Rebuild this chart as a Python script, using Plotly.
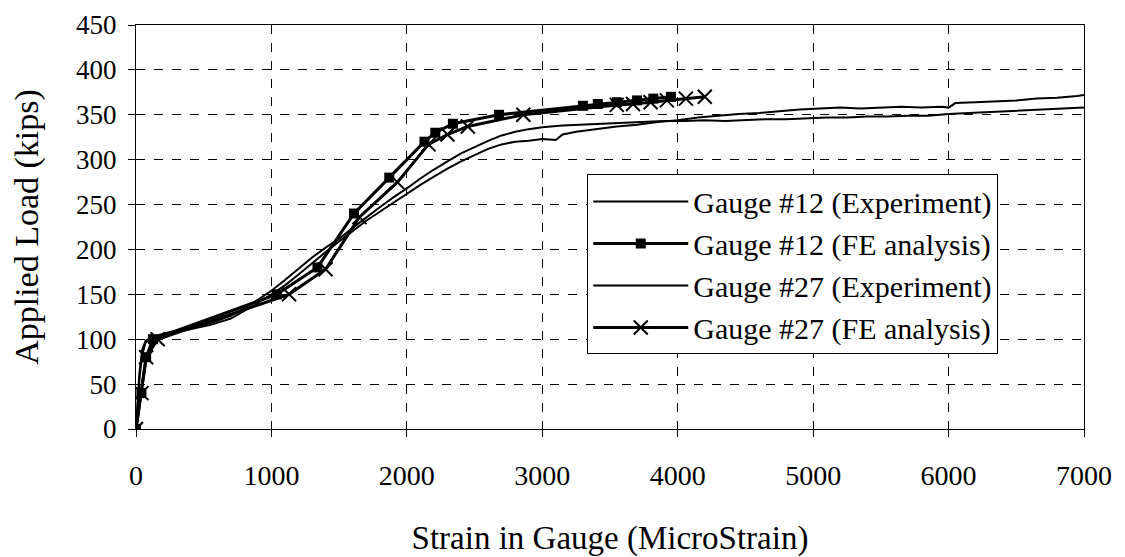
import plotly.graph_objects as go

# Gauge #12 experiment (thin wavy line)
exp12_x = [0, 10, 25, 45, 70, 100, 150, 250, 400, 550, 700, 850, 1000, 1100, 1200, 1300, 1400, 1500,
           1600, 1700, 1800, 1900, 2000, 2100, 2200, 2300, 2400, 2500, 2600, 2700, 2800, 2900, 3000,
           3100, 3150, 3250, 3400, 3550, 3700, 3850, 4000, 4150, 4300, 4450, 4600, 4750, 4900, 5050,
           5200, 5350, 5500, 5650, 5800, 5950, 6000, 6050, 6200, 6350, 6500, 6650, 6800, 6950, 7000]
exp12_y = [0, 25, 55, 82, 96, 100, 103, 106, 111, 116, 123, 136, 150, 160, 172, 185, 197, 209,
           221, 232, 242, 252, 262, 272, 281, 290, 298, 305, 312, 317, 320, 321, 323,
           322, 328, 331, 334, 337, 339, 342, 344, 347, 349, 351, 352, 354, 356, 357,
           358, 357, 358, 359, 358, 359, 358, 363, 364, 365, 366, 368, 369, 371, 372]

# Gauge #27 experiment (thin wavy line)
exp27_x = [0, 10, 25, 45, 70, 100, 150, 250, 400, 550, 700, 850, 1000, 1100, 1200, 1300, 1400, 1500,
           1600, 1700, 1800, 1900, 2000, 2100, 2200, 2300, 2400, 2500, 2600, 2700, 2800, 2900, 3000,
           3150, 3300, 3450, 3600, 3750, 3900, 4050, 4200, 4350, 4500, 4650, 4800, 4950, 5100, 5250,
           5400, 5550, 5700, 5850, 6000, 6150, 6300, 6450, 6600, 6750, 6900, 7000]
exp27_y = [0, 30, 62, 88, 98, 101, 104, 108, 112, 118, 126, 139, 154, 166, 179, 191, 202, 212,
           224, 236, 247, 258, 268, 279, 289, 298, 307, 314, 321, 327, 331, 334, 336,
           338, 339, 340, 341, 342, 343, 343, 344, 343, 344, 345, 345, 346, 347, 347,
           348, 348, 349, 349, 351, 352, 353, 354, 355, 356, 357, 358]

# FE analysis results
fe12_x = [0, 40, 75, 125, 1040, 1340, 1610, 1870, 2130, 2210, 2340, 2680, 3300, 3410, 3550, 3700, 3820, 3950]
fe12_y = [0, 40, 80, 100, 150, 180, 240, 280, 320, 330, 340, 350, 360, 362, 364, 366, 368, 370]

fe27_x = [0, 40, 75, 160, 1130, 1400, 1650, 1930, 2160, 2300, 2450, 2860, 3550, 3670, 3800, 3920, 4060, 4200]
fe27_y = [0, 40, 80, 100, 150, 178, 236, 275, 317, 328, 337, 350, 361, 362, 364, 366, 368, 370]

fnt = "Liberation Serif, Times New Roman, serif"

fig = go.Figure()
fig.add_trace(go.Scatter(x=exp12_x, y=exp12_y, mode="lines", name="Gauge #12 (Experiment)",
                         line=dict(color="black", width=2)))
fig.add_trace(go.Scatter(x=fe12_x, y=fe12_y, mode="lines+markers", name="Gauge #12 (FE analysis)",
                         line=dict(color="black", width=3),
                         marker=dict(symbol="square", size=10, color="black")))
fig.add_trace(go.Scatter(x=exp27_x, y=exp27_y, mode="lines", name="Gauge #27 (Experiment)",
                         line=dict(color="black", width=2)))
fig.add_trace(go.Scatter(x=fe27_x, y=fe27_y, mode="lines+markers", name="Gauge #27 (FE analysis)",
                         line=dict(color="black", width=3),
                         marker=dict(symbol="x-thin-open", size=14, color="black",
                                     line=dict(color="black", width=2))))

axis_style = dict(showline=True, linecolor="black", linewidth=1, mirror=True,
                  showgrid=True, gridcolor="black", gridwidth=1, griddash="dash",
                  zeroline=False, ticks="outside", ticklen=7, tickcolor="black",
                  automargin=False, ticklabeloverflow="allow",
                  tickfont=dict(family=fnt, size=28, color="black"))

fig.update_xaxes(range=[0, 7000], dtick=1000, ticklabelstandoff=14,
                 title=dict(text="Strain in Gauge (MicroStrain)", standoff=36,
                            font=dict(family=fnt, size=33, color="black")),
                 **axis_style)
fig.update_yaxes(range=[0, 450], dtick=50, ticklabelstandoff=6,
                 title=dict(text="Applied Load (kips)", standoff=39,
                            font=dict(family=fnt, size=34, color="black")),
                 **axis_style)
fig.update_yaxes(tickfont_size=27)

# page body adds an 8px offset, so margins are shifted to keep the plot area in place
fig.update_layout(
    width=1125, height=557,
    margin=dict(l=128, r=49, t=17, b=136),
    plot_bgcolor="white", paper_bgcolor="white",
    font=dict(family=fnt, color="black"),
    legend=dict(x=0.476, y=0.63, xanchor="left", yanchor="top",
                bgcolor="white", bordercolor="black", borderwidth=1,
                font=dict(family=fnt, size=30, color="black"),
                tracegroupgap=0, itemwidth=95),
)

fig.write_html("out.html")
